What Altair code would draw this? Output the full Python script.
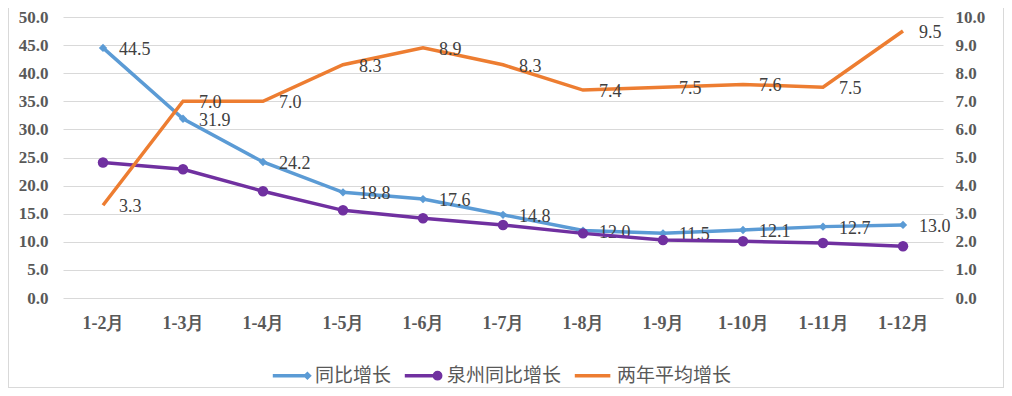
import altair as alt
import pandas as pd

months = ["1-2月", "1-3月", "1-4月", "1-5月", "1-6月", "1-7月", "1-8月", "1-9月", "1-10月", "1-11月", "1-12月"]
yoy = [44.5, 31.9, 24.2, 18.8, 17.6, 14.8, 12.0, 11.5, 12.1, 12.7, 13.0]
quanzhou = [24.1, 22.9, 19.0, 15.6, 14.2, 13.0, 11.5, 10.3, 10.1, 9.8, 9.2]
two_year = [3.3, 7.0, 7.0, 8.3, 8.9, 8.3, 7.4, 7.5, 7.6, 7.5, 9.5]
series_names = ["同比增长", "泉州同比增长", "两年平均增长"]
colors = ["#5B9BD5", "#7030A0", "#ED7D31"]

df_yoy = pd.DataFrame({"month": months, "value": yoy, "series": series_names[0]})
df_qz = pd.DataFrame({"month": months, "value": quanzhou, "series": series_names[1]})
df_two = pd.DataFrame({"month": months, "value": two_year, "series": series_names[2]})
df_all = pd.concat([df_yoy, df_qz, df_two], ignore_index=True)

W, H = 880, 281
PAD_L, PAD_T, PAD_R, PAD_B = 55, 9, 61, 90
serif = "Liberation Serif"
axis_color = "#595959"

x_enc = alt.X("month:N", sort=months,
              scale=alt.Scale(type="point", padding=0.5),
              axis=alt.Axis(title=None, labelAngle=0, grid=False, domain=False, ticks=False,
                            labelFont=serif, labelFontWeight="bold", labelFontSize=18,
                            labelColor=axis_color, labelPadding=16))

y_left = alt.Y("value:Q", scale=alt.Scale(domain=[0, 50], nice=False),
               axis=alt.Axis(title=None, orient="left", values=list(range(0, 51, 5)), format=".1f",
                             grid=True, gridColor="#d9d9d9", domain=False, ticks=False,
                             labelFont=serif, labelFontWeight="bold", labelFontSize=17,
                             labelColor=axis_color, labelPadding=15))
y_right = alt.Y("value:Q", scale=alt.Scale(domain=[0, 10], nice=False),
                axis=alt.Axis(title=None, orient="right", values=list(range(0, 11)), format=".1f",
                              grid=False, domain=False, ticks=False,
                              labelFont=serif, labelFontWeight="bold", labelFontSize=17,
                              labelColor=axis_color, labelPadding=12))

label_style = dict(align="left", baseline="middle", dx=16, dy=2, font=serif, fontSize=18, color="#404040")

blue_line = alt.Chart(df_yoy).mark_line(color=colors[0], strokeWidth=3.5).encode(x=x_enc, y=y_left)
blue_pts = alt.Chart(df_yoy).mark_point(shape="diamond", filled=True, color=colors[0], size=70, opacity=1).encode(x=x_enc, y=y_left)
blue_txt = alt.Chart(df_yoy).mark_text(**label_style).encode(x=x_enc, y=y_left, text=alt.Text("value:Q", format=".1f"))
purple_line = alt.Chart(df_qz).mark_line(color=colors[1], strokeWidth=3.5).encode(x=x_enc, y=y_left)
purple_pts = alt.Chart(df_qz).mark_point(shape="circle", filled=True, color=colors[1], size=110, opacity=1).encode(x=x_enc, y=y_left)

legend_paths = [
    "M-1,0H0.85M0.85,-0.1L0.95,0L0.85,0.1L0.75,0Z",
    "M-1,0H0.75M0.58,0A0.17,0.17 0 1,0 0.92,0A0.17,0.17 0 1,0 0.58,0Z",
    "M-1,0H0.9",
]
leg = alt.Legend(title=None, orient="none", direction="horizontal", legendX=208, legendY=338,
                 symbolSize=1400, symbolStrokeWidth=3.5, symbolOpacity=1,
                 labelFont="Noto Sans CJK SC", labelFontSize=19,
                 labelColor=axis_color, labelOffset=3, columnPadding=5)
legend_layer = alt.Chart(df_all).transform_filter("datum.value < -1000").mark_point(filled=True, opacity=1).encode(
    x=x_enc, y=y_left,
    stroke=alt.Stroke("series:N", scale=alt.Scale(domain=series_names, range=colors), legend=leg),
    fill=alt.Fill("series:N", scale=alt.Scale(domain=series_names, range=colors), legend=leg),
    shape=alt.Shape("series:N", scale=alt.Scale(domain=series_names, range=legend_paths), legend=leg),
)

# light outer frame (left, right, bottom edges)
fx0, fx1 = -PAD_L + 0.5, W + PAD_R - 0.5
fy0, fy1 = -PAD_T, H + PAD_B - 0.5
frame_l = alt.Chart(df_yoy).mark_rule(stroke="#d9d9d9", strokeWidth=1).encode(
    x=alt.value(fx0), y=alt.value(fy0), y2=alt.value(fy1))
frame_r = alt.Chart(df_yoy).mark_rule(stroke="#d9d9d9", strokeWidth=1).encode(
    x=alt.value(fx1), y=alt.value(fy0), y2=alt.value(fy1))
frame_b = alt.Chart(df_yoy).mark_rule(stroke="#d9d9d9", strokeWidth=1).encode(
    x=alt.value(fx0), x2=alt.value(fx1), y=alt.value(fy1))

left = alt.layer(frame_l, frame_r, frame_b, blue_line, blue_pts, blue_txt, purple_line, purple_pts, legend_layer)

orange_line = alt.Chart(df_two).mark_line(color=colors[2], strokeWidth=3.5).encode(x=x_enc, y=y_right)
orange_txt = alt.Chart(df_two).mark_text(**label_style).encode(x=x_enc, y=y_right, text=alt.Text("value:Q", format=".1f"))
right = alt.layer(orange_line, orange_txt)

chart = alt.layer(left, right).resolve_scale(y="independent").properties(
    width=W, height=H,
    autosize=alt.AutoSizeParams(type="none"),
    padding={"left": PAD_L, "top": PAD_T, "right": PAD_R, "bottom": PAD_B},
    background="white",
).configure_view(stroke=None)

chart.save("out.html", embed_options={"renderer": "svg", "actions": False})
